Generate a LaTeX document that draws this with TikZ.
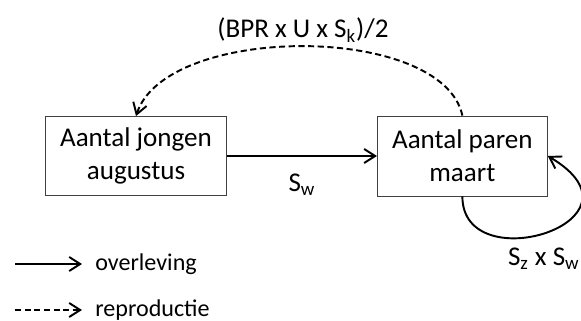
\documentclass[tikz,border=0pt]{standalone}
\usepackage{fontspec}
\setmainfont{Carlito}
\usetikzlibrary{positioning, arrows.meta}

\begin{document}
\begin{tikzpicture}[auto, node distance=3cm,
    box/.style={draw=black!75, line width=0.5pt, align=center,
      font=\fontsize{15.4}{18.8}\selectfont},
    flow/.style={line width=1.1pt, -{Straight Barb[length=2.2mm, width=2.8mm]}},
    repro/.style={flow, dash pattern=on 3.5pt off 2pt},
    lbl/.style={font=\fontsize{15.4}{18.8}\selectfont},
    legend/.style={font=\fontsize{13.7}{16}\selectfont, inner sep=0pt}]
  \useasboundingbox (0,0) rectangle (11.62,6.4);

  % populatie
  \node[box, minimum width=3.62cm, minimum height=1.58cm] (jongen) at (2.72,3.28) {Aantal jongen\\augustus};
  \node[box, minimum width=3.4cm,  minimum height=1.6cm]  (paren)  [right=of jongen] {Aantal paren\\maart};

  \path (jongen) edge[flow] node[swap, lbl, yshift=-0.22cm] {S\textsubscript{w}} (paren);
  \draw[repro] (paren.north) .. controls +(-0.4,1.85) and +(0.6,1.85) .. (jongen.north)
    node[lbl, pos=0.5, anchor=base, yshift=0.17cm] (bpr) {(BPR x U x S\textsubscript{k})/2};
  \draw[flow] (paren.south) .. controls +(0,-1.7) and +(2.2,-1.3) .. (paren.east);
  \node[lbl, anchor=base east, inner sep=0pt] (szsw) at (11.6,1.08) {S\textsubscript{z} x S\textsubscript{w}};

  % legenda
  \coordinate (sa) at (0.3,1.12);
  \coordinate (sb) at (1.64,1.12);
  \coordinate (ra) at (0.3,0.2);
  \coordinate (rb) at (1.64,0.2);
  \draw[flow] (sa) -- (sb);
  \draw[repro] (ra) -- (rb);
  \node[legend, right=0.26cm of sb] (overl) {overleving};
  \node[legend, right=0.26cm of rb] (repr) {reproductie};
\end{tikzpicture}
\end{document}
